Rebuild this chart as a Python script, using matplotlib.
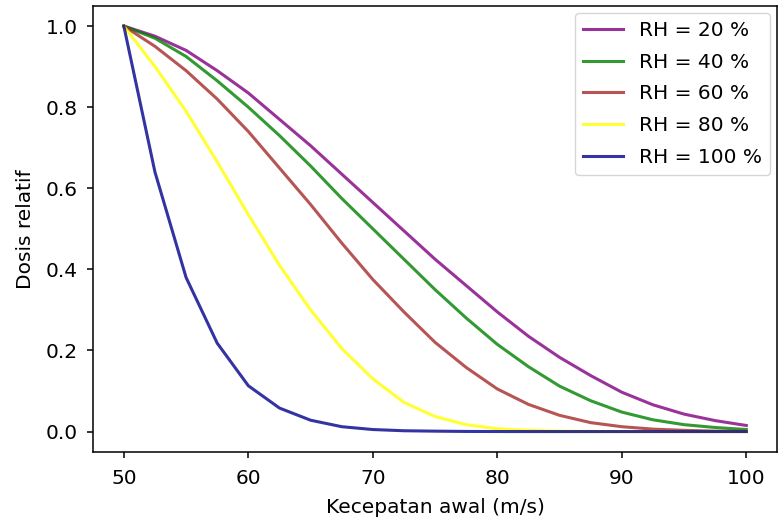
import numpy as np
import matplotlib.pyplot as plt

# initial speed (m/s)
v = [50, 52.5, 55, 57.5, 60, 62.5, 65, 67.5, 70, 72.5, 75,
     77.5, 80, 82.5, 85, 87.5, 90, 92.5, 95, 97.5, 100]

# relative dose per relative humidity
rh20 = [1.0, 0.975, 0.94, 0.89, 0.835, 0.77, 0.705, 0.635, 0.565, 0.495, 0.425,
        0.36, 0.295, 0.235, 0.183, 0.138, 0.097, 0.066, 0.043, 0.027, 0.015]
rh40 = [1.0, 0.97, 0.925, 0.865, 0.80, 0.73, 0.655, 0.575, 0.50, 0.425, 0.35,
        0.28, 0.215, 0.16, 0.112, 0.076, 0.048, 0.029, 0.017, 0.010, 0.005]
rh60 = [1.0, 0.95, 0.89, 0.82, 0.74, 0.65, 0.56, 0.465, 0.375, 0.295, 0.22,
        0.158, 0.105, 0.067, 0.040, 0.022, 0.012, 0.006, 0.003, 0.001, 0.0005]
rh80 = [1.0, 0.90, 0.79, 0.665, 0.535, 0.41, 0.30, 0.205, 0.13, 0.072, 0.037,
        0.017, 0.007, 0.003, 0.001, 0.0004, 0.0001, 0.0, 0.0, 0.0, 0.0]
rh100 = [1.0, 0.64, 0.38, 0.218, 0.113, 0.058, 0.028, 0.012, 0.005, 0.002, 0.001,
         0.0003, 0.0001, 0.0, 0.0, 0.0, 0.0, 0.0, 0.0, 0.0, 0.0]

labels = ['RH = 20 %', 'RH = 40 %', 'RH = 60 %', 'RH = 80 %', 'RH = 100 %']
colors = ['purple', 'green', 'brown', 'yellow', 'darkblue']

plt.rcParams['font.size'] = 14.5
plt.rcParams['axes.linewidth'] = 1.1

fig = plt.figure(figsize=(7.79, 5.26), dpi=100)
ax = fig.add_axes([0.119, 0.141, 0.879, 0.848])

for y, lab, c in zip([rh20, rh40, rh60, rh80, rh100], labels, colors):
    ax.plot(v, y, color=c, alpha=0.8, lw=2.2, label=lab)

ax.set_xlabel('Kecepatan awal (m/s)', labelpad=7)
ax.set_ylabel('Dosis relatif', labelpad=8)
ax.tick_params(length=4.5, width=1.1, pad=6)
ax.tick_params(axis='x', pad=8)
ax.legend(loc='upper right', labelspacing=0.63, borderaxespad=0.35)

fig.savefig('out.png')
